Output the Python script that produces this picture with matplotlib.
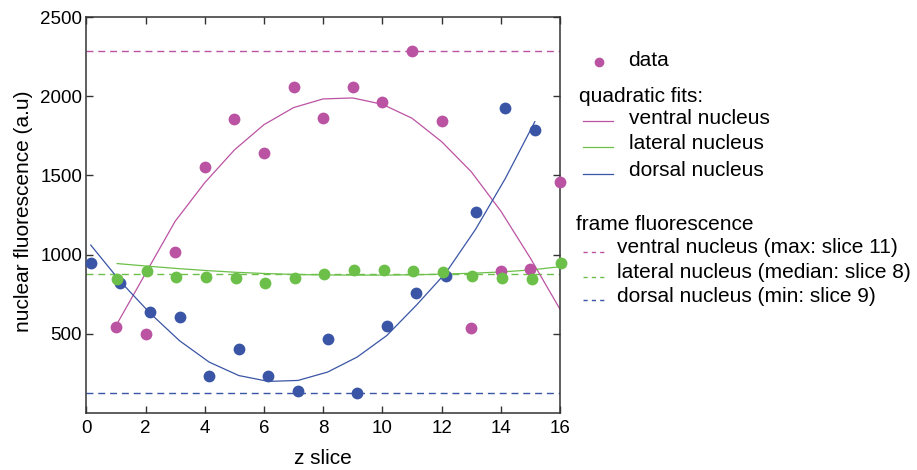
import matplotlib
matplotlib.use("Agg")
import matplotlib.pyplot as plt
from matplotlib.lines import Line2D
import numpy as np

plt.rcParams['font.family'] = ['Liberation Sans', 'DejaVu Sans']

# z slices (each series is plotted with a small x offset so dots don't stack)
ventral_x = np.arange(1, 17)
lateral_x = np.arange(1, 17) + 0.04
dorsal_x = np.arange(0, 16) + 0.15

# nuclear fluorescence per slice
ventral_y = [542, 496, 1015, 1556, 1859, 1640, 2058, 1863, 2058, 1963, 2290, 1843, 534, 894, 909, 1461]
lateral_y = [846, 898, 860, 856, 852, 820, 854, 877, 901, 902, 898, 890, 865, 852, 844, 945]
dorsal_y = [949, 819, 639, 606, 235, 405, 235, 140, 465, 122, 551, 755, 867, 1267, 1929, 1790]

# quadratic fits evaluated at each slice
ventral_fit = [549, 880, 1210, 1454, 1661, 1821, 1929, 1984, 1990, 1950, 1862, 1714, 1524, 1275, 977, 654]
lateral_fit = [943, 927, 912, 899, 888, 880, 874, 871, 870, 870, 872, 876, 882, 890, 903, 924]
dorsal_fit = [1060, 830, 630, 455, 320, 235, 198, 204, 257, 352, 488, 680, 886, 1160, 1480, 1840]

# frame fluorescence reference levels
ventral_frame = 2290   # max: slice 11
lateral_frame = 877    # median: slice 8
dorsal_frame = 122     # min: slice 9

c_ventral = '#bb53a3'
c_lateral = '#6cc04a'
c_dorsal = '#3a55a6'

fig = plt.figure(figsize=(9.17, 4.70), dpi=100)
ax = fig.add_axes([0.0941, 0.1219, 0.5166, 0.8413])

dash = (0, (5, 3.5))
ax.axhline(ventral_frame, color=c_ventral, lw=1.0, ls=dash, zorder=1)
ax.axhline(lateral_frame, color=c_lateral, lw=1.0, ls=dash, zorder=1)
ax.axhline(dorsal_frame, color=c_dorsal, lw=1.0, ls=dash, zorder=1)

ax.plot(ventral_x, ventral_fit, color=c_ventral, lw=0.9, zorder=2)
ax.plot(dorsal_x, dorsal_fit, color=c_dorsal, lw=0.9, zorder=2)
ax.plot(lateral_x, lateral_fit, color=c_lateral, lw=0.9, zorder=2)

ms = 8.5
ax.plot(ventral_x, ventral_y, 'o', color=c_ventral, ms=ms, mec='none', zorder=3, clip_on=False)
ax.plot(dorsal_x, dorsal_y, 'o', color=c_dorsal, ms=ms, mec='none', zorder=4, clip_on=False)
ax.plot(lateral_x, lateral_y, 'o', color=c_lateral, ms=ms, mec='none', zorder=5, clip_on=False)

ax.set_xlim(0, 16)
ax.set_ylim(0, 2500)
ax.set_xticks(range(0, 17, 2))
ax.set_yticks([500, 1000, 1500, 2000, 2500])
ax.tick_params(direction='in', length=5, width=1.0, color='#333333',
               labelsize=13.5, top=True, right=True)
ax.tick_params(axis='x', pad=5)
ax.tick_params(axis='y', pad=3)
for s in ax.spines.values():
    s.set_linewidth(1.1)
    s.set_color('#333333')

ax.set_xlabel('z slice', fontsize=15, labelpad=9)
ax.set_ylabel('nuclear fluorescence (a.u)', fontsize=15)
ax.yaxis.set_label_coords(-0.113, 0.51)

# legend, laid out by hand in pixel coordinates
W, H = 917, 470
def fx(px):
    return px / W
def fy(py):
    return 1 - py / H

fs = 15
fig.add_artist(Line2D([fx(599.3)], [fy(61.7)], marker='o', color=c_ventral,
                      ms=7, mec='none', lw=0))
fig.text(fx(628), fy(60), 'data', fontsize=fs, va='center')

fig.text(fx(579), fy(96), 'quadratic fits:', fontsize=fs, va='center')
for py, col, lab in [(121, c_ventral, 'ventral nucleus'),
                     (146.7, c_lateral, 'lateral nucleus'),
                     (174, c_dorsal, 'dorsal nucleus')]:
    fig.add_artist(Line2D([fx(583.3), fx(613.3)], [fy(py), fy(py)], color=col, lw=0.9))
    fig.text(fx(629), fy(py - 3), lab, fontsize=fs, va='center')

fig.text(fx(576), fy(224), 'frame fluorescence', fontsize=fs, va='center')
for py, col, lab in [(251.7, c_ventral, 'ventral nucleus (max: slice 11)'),
                     (276.7, c_lateral, 'lateral nucleus (median: slice 8)'),
                     (300, c_dorsal, 'dorsal nucleus (min: slice 9)')]:
    fig.add_artist(Line2D([fx(582.7), fx(605)], [fy(py), fy(py)], color=col,
                          lw=1.0, ls=(0, (3, 3))))
    fig.text(fx(617), fy(py - 4), lab, fontsize=fs, va='center')

fig.savefig('out.png', dpi=100)
